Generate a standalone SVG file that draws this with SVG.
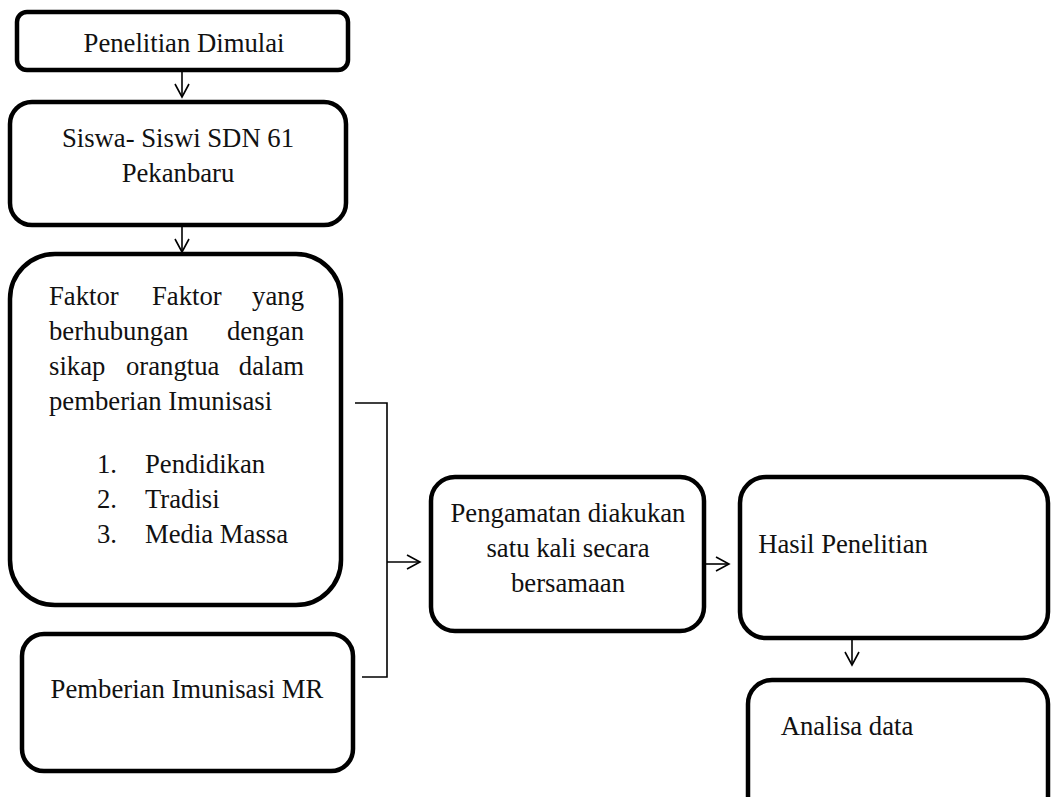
<svg xmlns="http://www.w3.org/2000/svg" width="1052" height="797" viewBox="0 0 1052 797">
<style>
.box{fill:#fff;stroke:#000;stroke-width:4.5}
text{font-family:'Liberation Serif','Times New Roman',Times,serif;font-size:26.7px;fill:#111}
.c{text-anchor:middle}
.e{text-anchor:end}
.ln{fill:none;stroke:#000;stroke-width:1.6}
</style>
<defs>
<marker id="ah" markerWidth="16" markerHeight="18" refX="14" refY="8" orient="auto" markerUnits="userSpaceOnUse">
<path d="M1,1 L14,8 L1,15" fill="none" stroke="#000" stroke-width="1.6"/>
</marker>
</defs>
<rect width="1052" height="797" fill="#fff"/>
<g id="n1">
<rect class="box" x="17" y="12" width="331" height="58" rx="10"/>
<text class="c" x="184" y="52">Penelitian Dimulai</text>
</g>
<g id="n2">
<rect class="box" x="10" y="102" width="336" height="123" rx="22"/>
<text class="c" x="178" y="147">Siswa- Siswi SDN 61</text>
<text class="c" x="178" y="182">Pekanbaru</text>
</g>
<g id="n3">
<rect class="box" x="10" y="254" width="331" height="351" rx="45"/>
<text x="49" y="305">Faktor</text>
<text x="152" y="305">Faktor</text>
<text class="e" x="304" y="305">yang</text>
<text x="49" y="340">berhubungan</text>
<text class="e" x="304" y="340">dengan</text>
<text x="49" y="375">sikap</text>
<text x="126" y="375">orangtua</text>
<text class="e" x="304" y="375">dalam</text>
<text x="49" y="410">pemberian Imunisasi</text>
<text x="97" y="473">1.</text>
<text x="145" y="473">Pendidikan</text>
<text x="97" y="508">2.</text>
<text x="145" y="508">Tradisi</text>
<text x="97" y="543">3.</text>
<text x="145" y="543">Media Massa</text>
</g>
<g id="n4">
<rect class="box" x="22" y="634" width="331" height="137" rx="22"/>
<text class="c" x="187" y="698">Pemberian Imunisasi MR</text>
</g>
<g id="n5">
<rect class="box" x="431" y="477" width="273" height="154" rx="24"/>
<text class="c" x="568" y="522">Pengamatan diakukan</text>
<text class="c" x="568" y="557">satu kali secara</text>
<text class="c" x="568" y="592">bersamaan</text>
</g>
<g id="n6">
<rect class="box" x="740" y="477" width="308" height="161" rx="26"/>
<text class="c" x="843" y="553">Hasil Penelitian</text>
</g>
<g id="n7">
<rect class="box" x="748" y="680" width="300" height="140" rx="24"/>
<text class="c" x="847" y="735">Analisa data</text>
</g>
<g id="connectors">
<line class="ln" x1="182" y1="72" x2="182" y2="97" marker-end="url(#ah)"/>
<line class="ln" x1="182" y1="227" x2="182" y2="252" marker-end="url(#ah)"/>
<polyline class="ln" points="355,403 387,403 387,677 362,677"/>
<line class="ln" x1="387" y1="562" x2="420" y2="562" marker-end="url(#ah)"/>
<line class="ln" x1="706" y1="564" x2="729" y2="564" marker-end="url(#ah)"/>
<line class="ln" x1="852" y1="640" x2="852" y2="665" marker-end="url(#ah)"/>
</g>
</svg>
